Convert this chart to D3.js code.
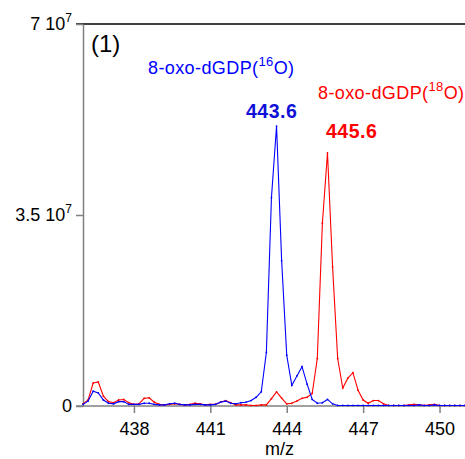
<!DOCTYPE html>
<html>
  <head>
    <meta charset="utf-8">
    <title>8-oxo-dGDP spectrum</title>
    <style type="text/css">
    body { margin: 0; background: #fff; }
    text { font-family: "Liberation Sans", Arial, sans-serif; }
    .axis path, .axis line { stroke: #808080; stroke-width: 1.5; }
    .axis text { font-size: 18px; fill: #000; }
    </style>
  </head>
  <body>
    <script src="https://d3js.org/d3.v7.min.js"></script>
    <div id="chart"></div>
    <script type="text/javascript">

    // m/z values (0.2 step)
    var mz = [436.0, 436.2, 436.4, 436.6, 436.8, 437.0, 437.2, 437.4, 437.6, 437.8,
              438.0, 438.2, 438.4, 438.6, 438.8, 439.0, 439.2, 439.4, 439.6, 439.8,
              440.0, 440.2, 440.4, 440.6, 440.8, 441.0, 441.2, 441.4, 441.6, 441.8,
              442.0, 442.2, 442.4, 442.6, 442.8, 443.0, 443.2, 443.4, 443.6, 443.8,
              444.0, 444.2, 444.4, 444.6, 444.8, 445.0, 445.2, 445.4, 445.6, 445.8,
              446.0, 446.2, 446.4, 446.6, 446.8, 447.0, 447.2, 447.4, 447.6, 447.8,
              448.0, 448.2, 448.4, 448.6, 448.8, 449.0, 449.2, 449.4, 449.6, 449.8,
              450.0, 450.2, 450.4, 450.6, 450.8, 451.0];

    // intensity, x 10^6  : 16O (blue)
    var o16 = [0.3, 0.9, 2.7, 2.4, 1.1, 0.5, 0.4, 0.8, 0.8, 0.3,
               0.3, 0.3, 0.5, 0.5, 0.3, 0.2, 0.2, 0.4, 0.5, 0.3,
               0.2, 0.2, 0.3, 0.3, 0.2, 0.2, 0.3, 0.7, 0.9, 0.5,
               0.4, 0.6, 0.7, 1.0, 1.6, 2.6, 9.8, 38.2, 51.3, 26.6,
               9.3, 3.8, 5.5, 7.2, 4.0, 1.2, 0.5, 0.6, 1.2, 0.4,
               0.1, 0.1, 0.1, 0.1, 0.1, 0.1, 0.1, 0.1, 0.1, 0.1,
               0.1, 0.1, 0.1, 0.1, 0.1, 0.1, 0.2, 0.1, 0.1, 0.2,
               0.1, 0.1, 0.1, 0.1, 0.1, 0.1];

    // intensity, x 10^6  : 18O (red)
    var o18 = [0.4, 1.1, 4.2, 4.4, 1.8, 0.8, 0.6, 1.1, 1.2, 0.6,
               0.3, 0.4, 1.4, 1.5, 0.7, 0.3, 0.2, 0.3, 0.4, 0.3,
               0.2, 0.3, 0.5, 0.4, 0.2, 0.3, 0.3, 0.7, 1.0, 0.6,
               0.2, 0.2, 0.2, 0.1, 0.1, 0.2, 0.2, 1.35, 2.6, 1.45,
               0.4, 0.5, 0.9, 1.4, 1.6, 2.3, 8.7, 33.5, 46.4, 25.5,
               8.7, 3.3, 5.1, 6.1, 2.9, 1.1, 0.5, 1.0, 1.0, 0.4,
               0.1, 0.1, 0.1, 0.1, 0.2, 0.3, 0.2, 0.1, 0.2, 0.3,
               0.1, 0.1, 0.1, 0.1, 0.1, 0.1];

    var xTicks = [438, 441, 444, 447, 450];
    var yTicks = [0, 35, 70];
    var yTickLabels = ["0", "3.5 10", "7 10"];

    var width = 465,
    height = 459;

    var svg = d3.select("#chart")
        .append("svg")
        .attr("width", width)
        .attr("height", height);

    var x = d3.scaleLinear().domain([436, 451]).range([83, 465]);
    var y = d3.scaleLinear().domain([0, 70]).range([406, 24]);

    // 上の枠線
    svg.append("line")
      .attr("x1", 76).attr("x2", width)
      .attr("y1", y(70)).attr("y2", y(70))
      .attr("stroke", "#000").attr("stroke-width", 1.5);

    // x axis
    var xAxis = svg.append("g")
      .attr("class", "axis")
      .attr("transform", "translate(0," + y(0) + ")")
      .call(d3.axisBottom(x).tickValues(xTicks).tickSize(7).tickSizeOuter(0).tickPadding(9));
    xAxis.select(".domain").attr("d", "M76,0H" + width);

    // y axis
    var yAxis = svg.append("g")
      .attr("class", "axis")
      .attr("transform", "translate(" + x(436) + ",0)")
      .call(d3.axisLeft(y).tickValues(yTicks).tickSize(7).tickSizeOuter(0).tickFormat(function() { return ""; }));
    yAxis.selectAll(".tick").filter(function(d) { return d === 70; }).select("line").attr("stroke", "#000");

    yAxis.selectAll(".tick text").each(function(d, i) {
      var t = d3.select(this)
        .attr("x", -11)
        .attr("dy", "0.32em")
        .attr("text-anchor", "end")
        .text(yTickLabels[i]);
      if (d !== 0) {
        t.append("tspan").attr("dy", -8).attr("font-size", "12px").text("7");
      }
    });

    var line = d3.line()
      .x(function(d, i) { return x(mz[i]); })
      .y(function(d) { return y(d); });

    var series = [
      { values: o18, color: "#ff0000" },
      { values: o16, color: "#0000ff" }
    ];

    series.forEach(function(s) {
      svg.append("path")
        .datum(s.values)
        .attr("d", line)
        .attr("fill", "none")
        .attr("stroke", s.color)
        .attr("stroke-width", 1.1);
      // 小さな点
      svg.selectAll(null)
        .data(s.values)
        .enter()
        .append("circle")
        .attr("cx", function(d, i) { return x(mz[i]); })
        .attr("cy", function(d) { return y(d); })
        .attr("r", 0.9)
        .attr("fill", s.color);
    });

    // (1)
    svg.append("text")
      .attr("x", 91).attr("y", 52)
      .attr("font-size", "24px")
      .text("(1)");

    // ラベル
    function label(x0, y0, color, sup) {
      var t = svg.append("text")
        .attr("x", x0).attr("y", y0)
        .attr("font-size", "18px")
        .attr("letter-spacing", "0.4px")
        .attr("fill", color);
      t.append("tspan").text("8-oxo-dGDP(");
      t.append("tspan").attr("dy", -8).attr("font-size", "13px").text(sup);
      t.append("tspan").attr("dy", 8).text("O)");
    }
    label(148, 74, "#0000ff", "16");
    label(318, 99, "#ff0000", "18");

    svg.append("text")
      .attr("x", 246).attr("y", 118)
      .attr("font-size", "19.5px")
      .attr("font-weight", "bold")
      .attr("letter-spacing", "0.5px")
      .attr("fill", "#1010d8")
      .text("443.6");

    svg.append("text")
      .attr("x", 326).attr("y", 138)
      .attr("font-size", "19.5px")
      .attr("font-weight", "bold")
      .attr("letter-spacing", "0.5px")
      .attr("fill", "#ff0000")
      .text("445.6");

    svg.append("text")
      .attr("x", 265).attr("y", 455)
      .attr("font-size", "18px")
      .text("m/z");

    </script>
  </body>
</html>
